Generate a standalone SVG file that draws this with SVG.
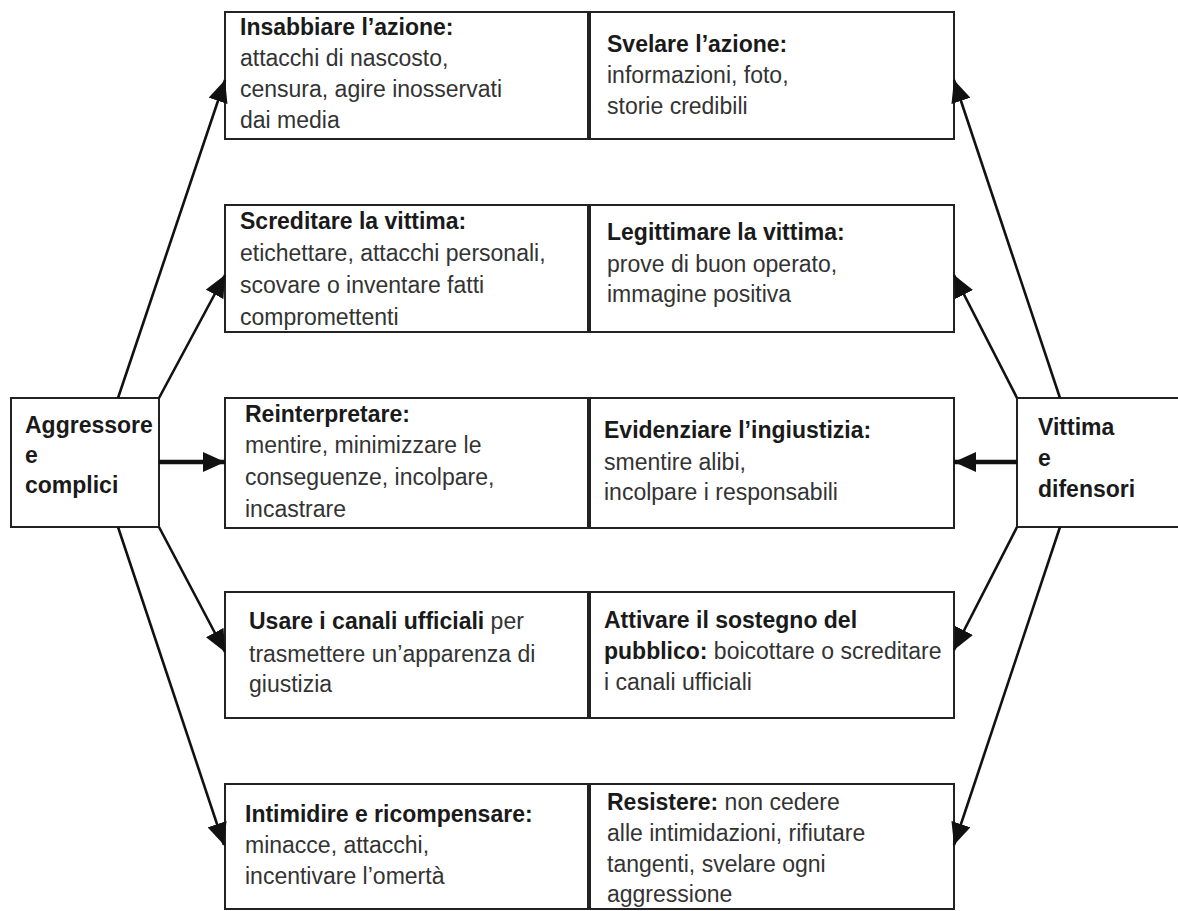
<svg xmlns="http://www.w3.org/2000/svg" width="1178" height="911" viewBox="0 0 1178 911">
<defs>
<marker id="ah" markerUnits="userSpaceOnUse" markerWidth="24" markerHeight="20" refX="22" refY="10" orient="auto">
<path d="M0,0 L22,10 L0,20 z" fill="#111"/>
</marker>
<style>
.box{fill:#fff;stroke:#222;stroke-width:2}
text{font-family:"Liberation Sans",Arial,sans-serif;font-size:23px;fill:#333}
.b{font-weight:bold;fill:#1a1a1a}
.c{stroke:#111;stroke-width:2.6;fill:none;marker-end:url(#ah)}
.h{stroke-width:4.5}
</style>
</defs>
<rect width="1178" height="911" fill="#fff"/>

<g id="aggressore">
<rect class="box" x="11" y="398" width="148" height="129"/>
<text class="b" x="25" y="433">Aggressore</text>
<text class="b" x="25" y="463">e</text>
<text class="b" x="25" y="493">complici</text>
</g>

<g id="vittima">
<rect class="box" x="1017" y="398" width="170" height="129"/>
<text class="b" x="1038" y="435">Vittima</text>
<text class="b" x="1038" y="466">e</text>
<text class="b" x="1038" y="497">difensori</text>
</g>

<g id="insabbiare">
<rect class="box" x="225" y="12" width="363" height="127"/>
<text class="b" x="240" y="35">Insabbiare l’azione:</text>
<text x="240" y="66">attacchi di nascosto,</text>
<text x="240" y="97">censura, agire inosservati</text>
<text x="240" y="128">dai media</text>
</g>

<g id="svelare">
<rect class="box" x="590" y="12" width="364" height="127"/>
<text class="b" x="607" y="52">Svelare l’azione:</text>
<text x="607" y="83">informazioni, foto,</text>
<text x="607" y="114">storie credibili</text>
</g>

<g id="screditare">
<rect class="box" x="225" y="205" width="363" height="127"/>
<text class="b" x="240" y="229">Screditare la vittima:</text>
<text x="240" y="261">etichettare, attacchi personali,</text>
<text x="240" y="293">scovare o inventare fatti</text>
<text x="240" y="325">compromettenti</text>
</g>

<g id="legittimare">
<rect class="box" x="590" y="205" width="364" height="127"/>
<text class="b" x="607" y="240">Legittimare la vittima:</text>
<text x="607" y="272">prove di buon operato,</text>
<text x="607" y="302">immagine positiva</text>
</g>

<g id="reinterpretare">
<rect class="box" x="225" y="398" width="363" height="130"/>
<text class="b" x="245" y="422">Reinterpretare:</text>
<text x="245" y="453">mentire, minimizzare le</text>
<text x="245" y="485">conseguenze, incolpare,</text>
<text x="245" y="517">incastrare</text>
</g>

<g id="evidenziare">
<rect class="box" x="590" y="398" width="364" height="130"/>
<text class="b" x="604" y="438">Evidenziare l’ingiustizia:</text>
<text x="604" y="470">smentire alibi,</text>
<text x="604" y="500">incolpare i responsabili</text>
</g>

<g id="usare">
<rect class="box" x="225" y="592" width="363" height="126"/>
<text x="249" y="629"><tspan class="b">Usare i canali ufficiali</tspan> per</text>
<text x="249" y="662">trasmettere un’apparenza di</text>
<text x="249" y="692">giustizia</text>
</g>

<g id="attivare">
<rect class="box" x="590" y="592" width="364" height="126"/>
<text class="b" x="604" y="628">Attivare il sostegno del</text>
<text x="604" y="659"><tspan class="b">pubblico:</tspan> boicottare o screditare</text>
<text x="604" y="690">i canali ufficiali</text>
</g>

<g id="intimidire">
<rect class="box" x="225" y="784" width="363" height="125"/>
<text class="b" x="245" y="822">Intimidire e ricompensare:</text>
<text x="245" y="853">minacce, attacchi,</text>
<text x="245" y="884">incentivare l’omertà</text>
</g>

<g id="resistere">
<rect class="box" x="590" y="784" width="364" height="125"/>
<text x="607" y="810"><tspan class="b">Resistere:</tspan> non cedere</text>
<text x="607" y="841">alle intimidazioni, rifiutare</text>
<text x="607" y="872">tangenti, svelare ogni</text>
<text x="607" y="902">aggressione</text>
</g>

<g id="connectors">
<line class="c" x1="118" y1="398" x2="225" y2="80"/>
<line class="c" x1="159" y1="398" x2="225" y2="275"/>
<line class="c h" x1="159" y1="462" x2="225" y2="462"/>
<line class="c" x1="159" y1="527" x2="225" y2="652"/>
<line class="c" x1="118" y1="527" x2="224" y2="845"/>
<line class="c" x1="1060" y1="398" x2="954" y2="80"/>
<line class="c" x1="1017" y1="398" x2="954" y2="275"/>
<line class="c h" x1="1017" y1="462" x2="954" y2="462"/>
<line class="c" x1="1017" y1="527" x2="954" y2="650"/>
<line class="c" x1="1060" y1="527" x2="954" y2="845"/>
</g>
</svg>
